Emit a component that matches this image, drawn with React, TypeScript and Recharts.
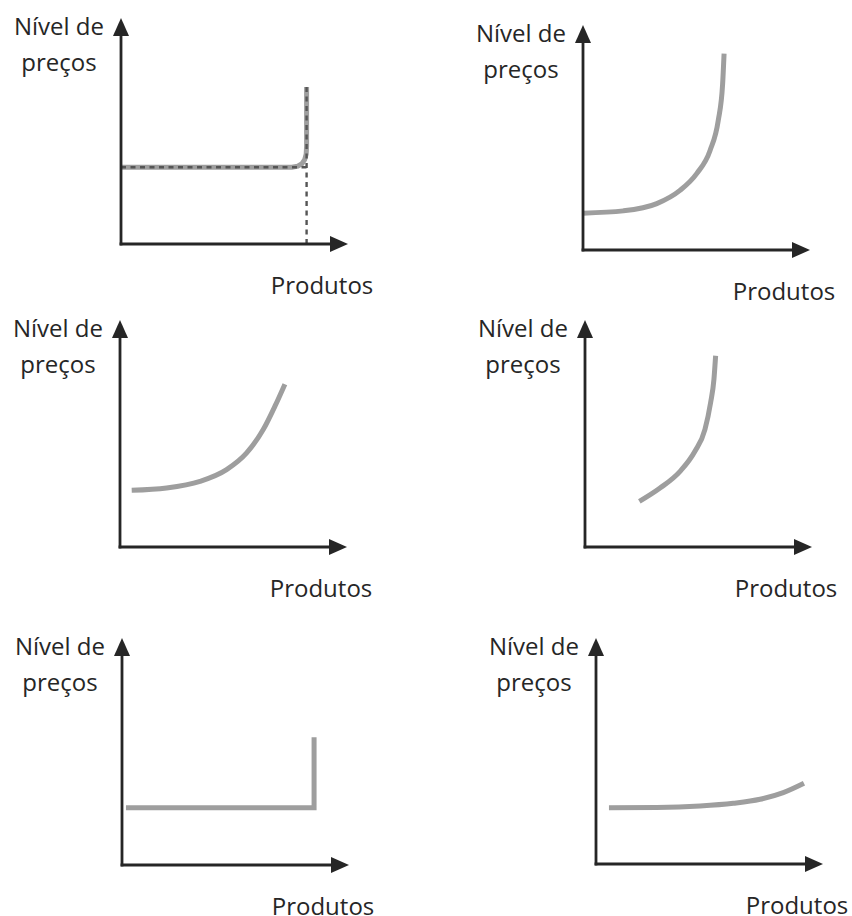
import React from "react";
import {LineChart, Line, XAxis, YAxis} from "recharts";

// curve readings, in % of each axis length (0..100)
const curveA = [
	{x: 0, y: 36.9},
	{x: 81.8, y: 36.9},
	{x: 84.6, y: 37.4},
	{x: 86.6, y: 38.6},
	{x: 87.9, y: 40.6},
	{x: 88.6, y: 43.2},
	{x: 88.8, y: 47},
	{x: 88.8, y: 75.5},
];
const dashA1 = [
	{x: 0, y: 36.9},
	{x: 88.8, y: 36.9},
];
const dashA2 = [
	{x: 88.8, y: 0},
	{x: 88.8, y: 75.5},
];
const curveB = [
	{x: 0, y: 17.8},
	{x: 19.3, y: 18.9},
	{x: 35.3, y: 22.4},
	{x: 46.4, y: 28.8},
	{x: 54.4, y: 36.9},
	{x: 60.8, y: 48.1},
	{x: 64.7, y: 62.5},
	{x: 66.8, y: 80.1},
	{x: 67.5, y: 94.9},
];
const curveC = [
	{x: 5.6, y: 27.1},
	{x: 22.3, y: 28.2},
	{x: 38.3, y: 31.4},
	{x: 51.0, y: 37.0},
	{x: 60.6, y: 45.0},
	{x: 68.6, y: 56.3},
	{x: 74.2, y: 67.5},
	{x: 78.9, y: 77.9},
];
const curveD = [
	{x: 26.0, y: 21.8},
	{x: 35.9, y: 28.2},
	{x: 45.5, y: 36.2},
	{x: 52.6, y: 45.8},
	{x: 57.4, y: 56.3},
	{x: 60.1, y: 69.1},
	{x: 61.7, y: 80.3},
	{x: 62.5, y: 91.5},
];
const curveE = [
	{x: 1.9, y: 27.4},
	{x: 91.9, y: 27.4},
	{x: 91.9, y: 61.1},
];
const curveF = [
	{x: 6.2, y: 27.1},
	{x: 29.0, y: 27.2},
	{x: 49.8, y: 27.9},
	{x: 65.7, y: 29.2},
	{x: 78.5, y: 31.1},
	{x: 89.6, y: 34.3},
	{x: 99.5, y: 38.8},
];

const yLabel = ["Nível de", "preços"];
const xLabel = "Produtos";

// axis origin on the page, and the top of the y arrow
const layout = [
	{ox: 121, oy: 244, top: 18},
	{ox: 583, oy: 250, top: 25},
	{ox: 120, oy: 547, top: 320},
	{ox: 585, oy: 547, top: 320},
	{ox: 122, oy: 865, top: 638},
	{ox: 596, oy: 864, top: 638},
];

const AXIS = "#262626";
const CURVE = "#9e9e9e";
const FONT = "'Open Sans', sans-serif";
const PAD = 10;
const ARROW = 18;
const PLOT_W = 209;

type Pt = {x: number; y: number};

function Panel({idx, curve, type, dashes}: {idx: number; curve: Pt[]; type: "linear" | "monotone"; dashes?: Pt[][]}) {
	const {ox, oy, top} = layout[idx];
	const plotH = oy - top - ARROW;
	const w = PAD + PLOT_W + ARROW + PAD;
	const h = PAD + ARROW + plotH + PAD;
	const id = `arrow${idx}`;
	return (
		<>
			<div style={{position: "absolute", left: ox - PAD, top: top - PAD}}>
				<LineChart
					width={w}
					height={h}
					margin={{top: PAD + ARROW, right: PAD + ARROW, bottom: PAD - 1, left: PAD - 1}}
				>
					<defs>
						<marker
							id={id}
							viewBox='0 0 18 16'
							refX='0'
							refY='8'
							markerWidth='18'
							markerHeight='16'
							markerUnits='userSpaceOnUse'
							orient='auto-start-reverse'
						>
							<path
								d='M0,0 L18,8 L0,16 Z'
								fill={AXIS}
							/>
						</marker>
					</defs>
					<XAxis
						type='number'
						dataKey='x'
						domain={[0, 100]}
						height={1}
						tick={false}
						tickLine={false}
						axisLine={{stroke: AXIS, strokeWidth: 2.8, strokeLinecap: "square", markerEnd: `url(#${id})`}}
					/>
					<YAxis
						type='number'
						domain={[0, 100]}
						width={1}
						tick={false}
						tickLine={false}
						axisLine={{stroke: AXIS, strokeWidth: 2.8, strokeLinecap: "square", markerStart: `url(#${id})`}}
					/>
					<Line
						data={curve}
						dataKey='y'
						type={type}
						stroke={CURVE}
						strokeWidth={5}
						dot={false}
						activeDot={false}
						isAnimationActive={false}
					/>
					{(dashes ?? []).map((d, i) => (
						<Line
							key={i}
							data={d}
							dataKey='y'
							type='linear'
							stroke='#555555'
							strokeWidth={2.4}
							strokeDasharray='5 4.5'
							dot={false}
							activeDot={false}
							isAnimationActive={false}
						/>
					))}
				</LineChart>
			</div>
			<div
				style={{
					position: "absolute",
					left: ox - 62 - 70,
					top: top - 10,
					width: 140,
					textAlign: "center",
					fontFamily: FONT,
					fontSize: 24,
					lineHeight: "36px",
					color: "#262626",
				}}
			>
				{yLabel[0]}
				<br />
				{yLabel[1]}
			</div>
			<div
				style={{
					position: "absolute",
					left: ox + 201 - 70,
					top: oy + 33,
					width: 140,
					textAlign: "center",
					fontFamily: FONT,
					fontSize: 24,
					lineHeight: "16px",
					color: "#262626",
				}}
			>
				{xLabel}
			</div>
		</>
	);
}

export default function App() {
	return (
		<div style={{position: "absolute", left: 0, top: 0, width: 852, height: 916, background: "#fff"}}>
			<Panel
				idx={0}
				curve={curveA}
				type='linear'
				dashes={[dashA1, dashA2]}
			/>
			<Panel
				idx={1}
				curve={curveB}
				type='monotone'
			/>
			<Panel
				idx={2}
				curve={curveC}
				type='monotone'
			/>
			<Panel
				idx={3}
				curve={curveD}
				type='monotone'
			/>
			<Panel
				idx={4}
				curve={curveE}
				type='linear'
			/>
			<Panel
				idx={5}
				curve={curveF}
				type='monotone'
			/>
		</div>
	);
}
